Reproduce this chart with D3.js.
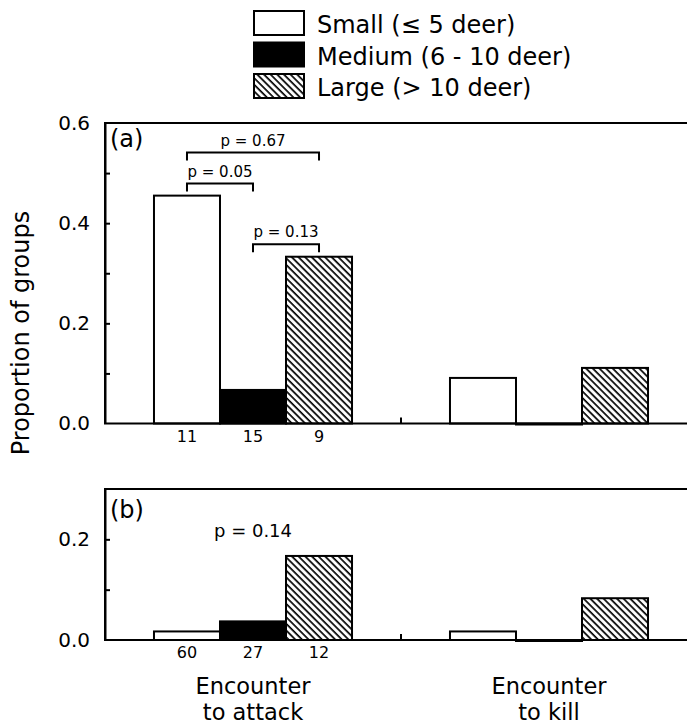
<!DOCTYPE html>
<html>
<head>
	<meta charset="UTF-8">
	<title>Proportion of groups</title>
	<style>
		body { margin: 0; background: #fff; }
		text { font-family: "DejaVu Sans", sans-serif; fill: #000; }
		.frame { fill: none; stroke: #000; stroke-width: 2px; }
		.bar { stroke: #000; stroke-width: 2px; }
		.bracket { fill: none; stroke: #000; stroke-width: 2px; }
		.axis path, .axis line { stroke: #000; stroke-width: 2px; }
	</style>
</head>
<body>
<script src="https://d3js.org/d3.v7.min.js"></script>
<script>

'use strict';

// data
var groups = ["attack", "kill"];
var groupLines = [["Encounter", "to attack"], ["Encounter", "to kill"]];
var sizes = ["Small", "Medium", "Large"];
var legendLabels = ["Small (\u2264 5 deer)", "Medium (6 - 10 deer)", "Large (> 10 deer)"];

// panel (a): proportion of groups, encounter -> attack / kill
var valuesA = [
	[0.455, 0.067, 0.333],
	[0.091, 0.0, 0.111]
];
// panel (b)
var valuesB = [
	[0.017, 0.037, 0.167],
	[0.017, 0.0, 0.083]
];
var countsA = [11, 15, 9];
var countsB = [60, 27, 12];

var tickLabelsA = [0.0, 0.2, 0.4, 0.6];
var tickMarksA = [0.1, 0.2, 0.3, 0.4, 0.5];
var tickLabelsB = [0.0, 0.2];
var tickMarksB = [0.1, 0.2];

// comparisons in panel (a): bars compared, level of bracket (in y units), label
var compFrom = ["Small", "Small", "Medium"];
var compTo = ["Large", "Medium", "Large"];
var compLevel = [0.541, 0.479, 0.358];
var compLabel = ["p = 0.67", "p = 0.05", "p = 0.13"];

var width = 687;
var height = 726;

var svg = d3.select("body").append("svg")
	.attr("width", width)
	.attr("height", height);

// hatch pattern for large groups
var pat = svg.append("defs").append("pattern")
	.attr("id", "hatch")
	.attr("patternUnits", "userSpaceOnUse")
	.attr("width", 4.7)
	.attr("height", 4.7)
	.attr("patternTransform", "rotate(-45)");
pat.append("rect")
	.attr("width", 4.7)
	.attr("height", 4.7)
	.attr("fill", "#fff");
pat.append("line")
	.attr("x1", 2).attr("y1", -1)
	.attr("x2", 2).attr("y2", 6)
	.attr("stroke", "#000")
	.attr("stroke-width", 1.7);

var fill = d3.scaleOrdinal()
	.domain(sizes)
	.range(["#fff", "#000", "url(#hatch)"]);

var x0 = d3.scaleBand()
	.domain(groups)
	.range([105, 697]);

var x1 = d3.scaleBand()
	.domain(sizes)
	.range([0, x0.bandwidth()])
	.paddingOuter(0.742);

function barCenter(g, s){ return x0(g) + x1(s) + x1.bandwidth() / 2; }

function panel(values, counts, y, tickMarks, tickLabels, tag, tagY){
	var p = svg.append("g");

	// inward ticks
	p.append("g")
		.attr("class", "axis")
		.attr("transform", "translate(" + x0.range()[0] + ",0)")
		.call(d3.axisLeft(y).tickValues(tickMarks).tickSizeInner(-5).tickSizeOuter(0).tickFormat(""));

	// tick labels
	p.append("g")
		.attr("transform", "translate(" + x0.range()[0] + ",0)")
		.call(d3.axisLeft(y).tickValues(tickLabels).tickSize(0).tickPadding(15).tickFormat(d3.format(".1f")))
		.call(function(g){
			g.select(".domain").remove();
			g.selectAll("text")
				.attr("font-family", "DejaVu Sans")
				.attr("font-size", 20)
				.attr("dy", "0.3em");
		});

	// bars
	var rows = p.selectAll(".grp")
		.data(groups)
		.enter().append("g")
		.attr("transform", function(g){ return "translate(" + x0(g) + ",0)"; });

	rows.selectAll("rect")
		.data(function(g, i){ return sizes.map(function(s, j){ return {size: s, value: values[i][j]}; }); })
		.enter().append("rect")
		.attr("class", "bar")
		.attr("x", function(d){ return x1(d.size); })
		.attr("y", function(d){ return y(d.value); })
		.attr("width", x1.bandwidth())
		.attr("height", function(d){ return Math.max(1, y(0) - y(d.value)); })
		.attr("fill", function(d){ return fill(d.size); });

	// frame: left, top and base lines
	var yr = y.range();
	p.append("path")
		.attr("class", "frame")
		.attr("d", d3.line()([[x0.range()[1], yr[1]], [x0.range()[0], yr[1]], [x0.range()[0], yr[0]], [x0.range()[1], yr[0]]]));

	// group divider tick on the base line
	p.append("line")
		.attr("class", "frame")
		.attr("x1", x0("kill")).attr("x2", x0("kill"))
		.attr("y1", y(0)).attr("y2", y(0) - 6);

	// sample sizes under the first group
	p.selectAll(".n")
		.data(counts)
		.enter().append("text")
		.attr("x", function(d, i){ return barCenter("attack", sizes[i]); })
		.attr("y", y(0) + 18)
		.attr("text-anchor", "middle")
		.attr("font-size", 16)
		.text(function(d){ return d; });

	p.append("text")
		.attr("x", x0.range()[0] + 5)
		.attr("y", tagY)
		.attr("font-size", 24)
		.text(tag);

	return p;
}

var yA = d3.scaleLinear().domain([0, 0.6]).range([423.5, 123]);
var yB = d3.scaleLinear().domain([0, 0.3]).range([640, 489]);

var pa = panel(valuesA, countsA, yA, tickMarksA, tickLabelsA, "(a)", 147);
var pb = panel(valuesB, countsB, yB, tickMarksB, tickLabelsB, "(b)", 518);

// brackets with p values in (a)
compLabel.forEach(function(lbl, i){
	var xa = barCenter("attack", compFrom[i]);
	var xb = barCenter("attack", compTo[i]);
	var yy = yA(compLevel[i]);
	pa.append("path")
		.attr("class", "bracket")
		.attr("d", d3.line()([[xa, yy + 8], [xa, yy], [xb, yy], [xb, yy + 8]]));
	pa.append("text")
		.attr("x", (xa + xb) / 2)
		.attr("y", yy - 7)
		.attr("text-anchor", "middle")
		.attr("font-size", 15)
		.text(lbl);
});

// p value in (b)
pb.append("text")
	.attr("x", barCenter("attack", "Medium"))
	.attr("y", 537)
	.attr("text-anchor", "middle")
	.attr("font-size", 18)
	.text("p = 0.14");

// y axis title
svg.append("text")
	.attr("transform", "translate(29," + 333 + ") rotate(-90)")
	.attr("text-anchor", "middle")
	.attr("font-size", 24)
	.text("Proportion of groups");

// category labels
var cat = svg.selectAll(".cat")
	.data(groups)
	.enter().append("text")
	.attr("text-anchor", "middle")
	.attr("font-size", 22.5);
cat.selectAll("tspan")
	.data(function(g, i){ return groupLines[i]; })
	.enter().append("tspan")
	.attr("x", function(){ var g = d3.select(this.parentNode).datum(); return x0(g) + x0.bandwidth() / 2; })
	.attr("y", function(d, i){ return 694 + i * 26; })
	.text(function(d){ return d; });

// legend
var leg = svg.append("g")
	.attr("transform", "translate(254,0)");
var li = leg.selectAll("g")
	.data(sizes)
	.enter().append("g")
	.attr("transform", function(d, i){ return "translate(0," + (11 + i * 31.5) + ")"; });
li.append("rect")
	.attr("class", "bar")
	.attr("width", 50)
	.attr("height", 24)
	.attr("fill", function(d){ return fill(d); });
li.append("text")
	.attr("x", 63)
	.attr("y", 22)
	.attr("font-size", 24)
	.text(function(d, i){ return legendLabels[i]; });

</script>
</body>
</html>
